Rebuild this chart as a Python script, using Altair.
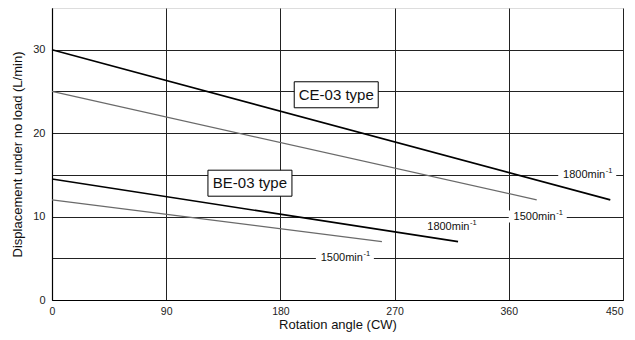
import altair as alt
import pandas as pd

# Lines (rotation angle vs displacement)
series = ["CE-03 1800", "CE-03 1500", "BE-03 1800", "BE-03 1500"]
angle_start = [0, 0, 0, 0]
angle_end = [440, 382, 320, 260]
disp_start = [30, 25, 14.5, 12]
disp_end = [12, 12, 7, 7]
speed = ["1800", "1500", "1800", "1500"]

# Speed labels
lab_text = ["1800min", "1500min", "1800min", "1500min"]
lab_x = [436, 397, 329, 245]
lab_y = [15, 10, 8.7, 5]
lab_bg = [True, True, False, True]

# Type boxes
type_text = ["CE-03 type", "BE-03 type"]
type_x = [224, 156]
type_y = [24.6, 14]

x_ticks = [0, 90, 180, 270, 360, 450]
y_ticks = [0, 5, 10, 15, 20, 25, 30]

rows = []
for s, a0, a1, d0, d1, sp in zip(series, angle_start, angle_end, disp_start, disp_end, speed):
    rows.append({"series": s, "angle": a0, "disp": d0, "speed": sp})
    rows.append({"series": s, "angle": a1, "disp": d1, "speed": sp})
lines_df = pd.DataFrame(rows)

labels_df = pd.DataFrame({"text": lab_text, "x": lab_x, "y": lab_y, "bg": lab_bg})
types_df = pd.DataFrame({"text": type_text, "x": type_x, "y": type_y})

xs = alt.Scale(domain=[0, 450], nice=False, zero=False)
ys = alt.Scale(domain=[0, 35], nice=False)

base_font = "Liberation Sans"
tick_font = "Liberation Sans Narrow, Liberation Sans"

lines = alt.Chart(lines_df).mark_line().encode(
    x=alt.X("angle:Q", scale=xs,
            axis=alt.Axis(values=x_ticks, title="Rotation angle (CW)", grid=True,
                          gridColor="#222", gridWidth=1, gridOpacity=1,
                          domainColor="#000", domainWidth=1.2, ticks=False,
                          labelFont=tick_font, labelFontSize=10.5, labelColor="#222",
                          labelPadding=6,
                          labelAlign={"condition": {"test": "datum.value == 450", "value": "right"}, "value": "center"},
                          titleFont=base_font, titleFontSize=13,
                          titleFontWeight="normal", titleColor="#111", titlePadding=2,
                          labelFlush=False)),
    y=alt.Y("disp:Q", scale=ys,
            axis=alt.Axis(values=y_ticks, title="Displacement under no load (L/min)",
                          grid=True, gridColor="#222", gridWidth=1, gridOpacity=1,
                          domainColor="#000", domainWidth=1.2, ticks=False,
                          labelExpr="datum.value % 10 == 0 ? datum.label : ''",
                          labelFont=tick_font, labelFontSize=11, labelColor="#222",
                          labelPadding=7, titleFont=base_font, titleFontSize=13,
                          titleFontWeight="normal", titleColor="#111", titlePadding=8)),
    detail="series:N",
    color=alt.Color("speed:N", scale=alt.Scale(domain=["1800", "1500"], range=["#000000", "#6a6a6a"]), legend=None),
    strokeWidth=alt.StrokeWidth("speed:N", scale=alt.Scale(domain=["1800", "1500"], range=[1.6, 1.2]), legend=None),
)

lab_bg_layer = alt.Chart(labels_df).transform_filter("datum.bg").mark_rect(
    width=58, height=12, color="white", xOffset=-18
).encode(x=alt.X("x:Q", scale=xs), y=alt.Y("y:Q", scale=ys))

lab_main = alt.Chart(labels_df).mark_text(
    align="right", baseline="middle", font=base_font, fontSize=11, color="#111"
).encode(x=alt.X("x:Q", scale=xs), y=alt.Y("y:Q", scale=ys), text="text:N")

lab_sup = alt.Chart(labels_df).mark_text(
    align="left", baseline="middle", font=base_font, fontSize=7.5, color="#111", dy=-4, dx=0.5
).encode(x=alt.X("x:Q", scale=xs), y=alt.Y("y:Q", scale=ys), text=alt.value("-1"))

type_box = alt.Chart(types_df).mark_rect(
    width=84, height=26, color="white", stroke="#000", strokeWidth=1
).encode(x=alt.X("x:Q", scale=xs), y=alt.Y("y:Q", scale=ys))

type_txt = alt.Chart(types_df).mark_text(
    align="center", baseline="middle", font=base_font, fontSize=15, color="#111"
).encode(x=alt.X("x:Q", scale=xs), y=alt.Y("y:Q", scale=ys), text="text:N")

chart = alt.layer(lines, lab_bg_layer, lab_main, lab_sup, type_box, type_txt).properties(
    width=571, height=292,
    autosize=alt.AutoSizeParams(type="none"),
    padding={"left": 44, "top": 0, "right": 4, "bottom": 32},
).configure_view(stroke="#000", strokeWidth=1.2).configure(background="white")

chart.save("out.html", embed_options={"renderer": "svg", "actions": False})
